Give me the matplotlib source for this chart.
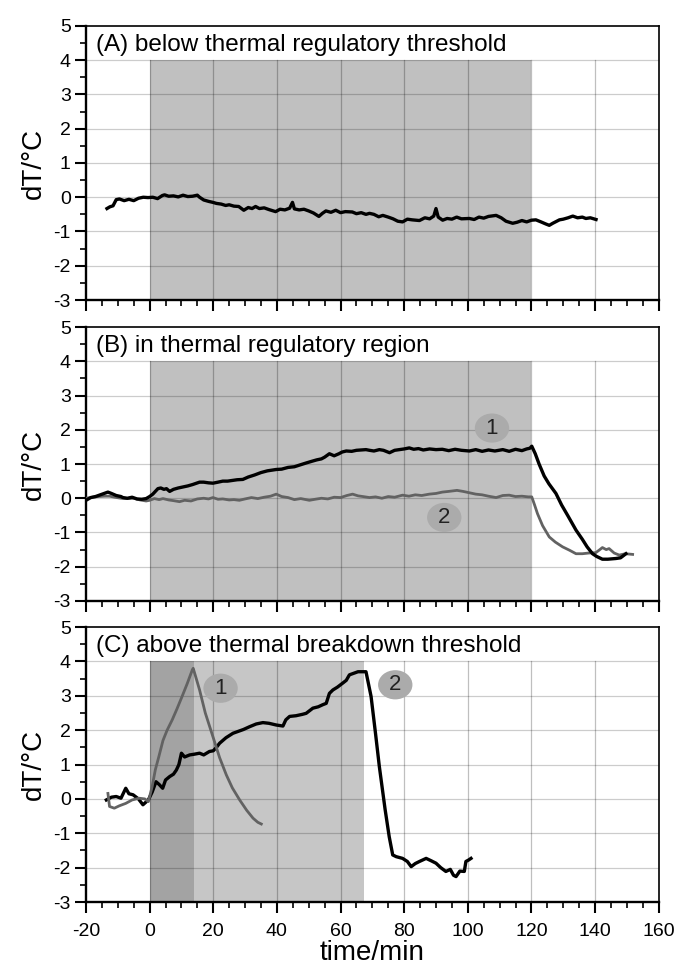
import matplotlib
matplotlib.use("Agg")
import matplotlib.pyplot as plt
from matplotlib.patches import Ellipse
from matplotlib.ticker import MultipleLocator

# ---- data (time in min, dT in degC) ----
A_T = [-13.4, -12.5, -11.5, -10.5, -9.5, -8, -6.5, -5, -3.5, -2, -0.5, 1, 2.5, 4, 4.7, 6,
       7.5, 9, 10.5, 12, 13.5, 15, 15.7, 17, 18.5, 19.9, 21, 22.5, 23.9, 25, 26.5, 28,
       29.6, 31, 32.2, 33.3, 34.5, 36, 37.5, 39.6, 41, 42.5, 44, 44.9, 45.5, 47, 48.5,
       50, 51.5, 53.2, 54.3, 55.4, 57, 58.5, 60, 61.5, 63.7, 65, 66.5, 68, 69.1, 70.5,
       72, 73.3, 75, 76.5, 78, 79.5, 81, 82.5, 84.8, 86.5, 88, 89.3, 90, 90.7, 92.1,
       93.5, 95, 96.5, 98, 100.5, 102, 103.5, 105, 106.5, 108.9, 110.5, 112, 114.1,
       115.5, 117, 118.5, 120, 121.4, 123, 124.5, 125.6, 126.7, 128.8, 130, 131.5, 133,
       134.5, 136, 137.1, 138.5, 140.3]
A_DT = [-0.33, -0.28, -0.25, -0.07, -0.05, -0.10, -0.06, -0.10, -0.03, 0.00, -0.01, 0.00,
        -0.04, 0.05, 0.07, 0.03, 0.04, 0.01, 0.06, 0.02, 0.03, 0.06, 0.00, -0.08, -0.12,
        -0.15, -0.18, -0.20, -0.24, -0.22, -0.26, -0.27, -0.38, -0.30, -0.33, -0.27, -0.33,
        -0.31, -0.36, -0.42, -0.35, -0.37, -0.32, -0.15, -0.34, -0.37, -0.35, -0.40, -0.46,
        -0.56, -0.47, -0.40, -0.44, -0.38, -0.45, -0.42, -0.43, -0.48, -0.45, -0.50, -0.47,
        -0.50, -0.57, -0.53, -0.58, -0.63, -0.70, -0.72, -0.64, -0.66, -0.68, -0.60, -0.63,
        -0.55, -0.33, -0.58, -0.67, -0.62, -0.64, -0.58, -0.63, -0.62, -0.65, -0.58, -0.61,
        -0.56, -0.53, -0.60, -0.70, -0.76, -0.73, -0.68, -0.72, -0.67, -0.66, -0.72, -0.78,
        -0.82, -0.76, -0.66, -0.64, -0.60, -0.55, -0.60, -0.58, -0.62, -0.60, -0.65]

B1_T = [-20, -18.5, -17, -15.5, -14, -13.1, -12, -10.5, -9, -8.4, -7, -5.5, -4, -2.5, -1.1,
        0, 1, 2, 2.6, 3.5, 4.5, 5.3, 6.3, 7.5, 9, 10.5, 12, 13.5, 15.7, 17, 18.5, 19.9,
        21.5, 23, 24.5, 26, 27.5, 29.3, 31, 33, 35, 37, 39.8, 41.5, 43.5, 45.5, 47.5, 49.2,
        51, 52.5, 54, 55, 56.5, 58, 59.5, 60.5, 61.8, 63.5, 65, 66.5, 68, 69.1, 70.5, 72.2,
        73.5, 75.4, 77, 78.5, 80, 81.6, 83, 84.5, 86, 88, 90, 92, 94, 96, 98, 100.5, 102.5,
        104.5, 106.5, 108.5, 111, 113, 115, 117, 118.5, 119.5, 120.1, 121.2, 122.4, 124,
        125.5, 127.7, 129.5, 131.5, 134, 136, 137.5, 139.2, 140.5, 142.3, 144, 146.5, 148,
        149.7]
B1_DT = [-0.06, 0.02, 0.05, 0.10, 0.15, 0.18, 0.14, 0.08, 0.05, 0.02, 0.00, 0.03, -0.02,
         -0.03, -0.01, 0.05, 0.12, 0.22, 0.28, 0.30, 0.26, 0.28, 0.20, 0.26, 0.30, 0.33,
         0.36, 0.40, 0.47, 0.47, 0.45, 0.44, 0.47, 0.50, 0.50, 0.52, 0.54, 0.55, 0.62, 0.68,
         0.75, 0.80, 0.84, 0.85, 0.90, 0.92, 0.98, 1.03, 1.08, 1.12, 1.15, 1.20, 1.30, 1.24,
         1.30, 1.35, 1.38, 1.37, 1.40, 1.41, 1.42, 1.40, 1.38, 1.42, 1.40, 1.33, 1.40, 1.42,
         1.44, 1.47, 1.43, 1.45, 1.41, 1.44, 1.42, 1.43, 1.39, 1.43, 1.40, 1.38, 1.42, 1.37,
         1.41, 1.38, 1.42, 1.37, 1.43, 1.39, 1.44, 1.46, 1.52, 1.30, 1.00, 0.65, 0.42, 0.14,
         -0.20, -0.52, -0.93, -1.20, -1.42, -1.62, -1.70, -1.78, -1.78, -1.76, -1.74, -1.62]

B2_T = [-20, -18, -16, -14, -12.6, -11, -9, -7, -5, -3, -1.1, 0, 1.5, 3, 4.2, 6, 7.5, 9.4,
        11, 13, 15, 17, 18.5, 19.9, 21.5, 23, 25, 26.5, 28.2, 30, 32, 34, 36, 38, 39.8,
        41.5, 43.5, 45.5, 47.5, 50.2, 52, 54, 56, 58, 60, 62, 63.8, 65.5, 67, 69.1, 71, 73,
        75, 77, 79.5, 81.5, 83.5, 85.5, 87.9, 90, 92, 94, 96.6, 98.5, 100.5, 102.5, 104.5,
        106.5, 108.9, 111, 113, 115, 117, 119, 120.1, 121, 121.9, 123.5, 125.6, 127.5,
        129.8, 132, 134, 136, 138, 140.2, 141.5, 142.3, 143.5, 144.4, 146, 147.6, 149.5,
        151.8]
B2_DT = [0.00, 0.03, 0.05, 0.06, 0.06, 0.03, 0.00, -0.01, 0.00, -0.05, -0.08, -0.06, -0.01,
         -0.04, -0.01, -0.05, -0.07, -0.10, -0.06, -0.08, -0.02, 0.00, -0.02, 0.02, -0.03,
         -0.02, -0.05, -0.04, -0.06, -0.02, 0.02, -0.01, 0.03, 0.06, 0.12, 0.05, 0.02, -0.04,
         -0.01, -0.06, -0.03, 0.00, -0.02, 0.03, 0.02, 0.08, 0.12, 0.07, 0.05, 0.02, 0.04,
         0.00, 0.05, 0.03, 0.09, 0.06, 0.10, 0.08, 0.12, 0.14, 0.18, 0.20, 0.23, 0.20, 0.16,
         0.12, 0.10, 0.06, 0.02, 0.08, 0.09, 0.05, 0.06, 0.04, 0.04, -0.20, -0.45, -0.80,
         -1.13, -1.28, -1.42, -1.52, -1.62, -1.62, -1.60, -1.59, -1.50, -1.44, -1.50, -1.47,
         -1.60, -1.66, -1.62, -1.64]

C1_T = [-13.1, -12.6, -11.1, -9.5, -7.5, -5.5, -3.3, -1.5, -0.4, 0.8, 1.8, 2.9, 4.2, 5.5,
        7.1, 8.6, 10.2, 11.8, 13.4, 13.7, 14.5, 15.7, 17.5, 19.9, 22, 24.1, 26, 28.3, 30.5,
        32.5, 34, 35.1]
C1_DT = [0.16, -0.22, -0.27, -0.20, -0.13, -0.03, 0.02, 0.00, -0.08, 0.36, 0.85, 1.23, 1.70,
         2.00, 2.30, 2.62, 2.98, 3.35, 3.75, 3.80, 3.55, 3.17, 2.50, 1.81, 1.20, 0.70, 0.32,
         -0.03, -0.33, -0.56, -0.68, -0.73]

C2_T = [-13.6, -12, -10.5, -9, -7.5, -6.5, -5.2, -3.5, -2.1, -0.4, 0.8, 2.0, 3, 4.1, 5, 6.3,
        7.5, 8.4, 9.2, 10, 11, 12.6, 14, 15.7, 17, 18.8, 20, 21, 22, 24, 26.2, 28, 29.5,
        31.4, 33.5, 35.6, 37.5, 39.8, 41.9, 42.8, 44, 46, 48, 49.2, 51.3, 53, 54.4, 55.5,
        56.5, 57.6, 59, 60.7, 61.8, 62.8, 64, 65.5, 67, 68.0, 69.6, 71, 72.2, 74, 75.3,
        76.4, 77.5, 79.5, 81, 82.2, 83.5, 84.8, 86.9, 88.5, 90, 91.5, 93.1, 94.5, 95.5,
        96.3, 97.5, 98.9, 99.4, 100.2, 101]
C2_DT = [-0.03, 0.05, 0.07, 0.02, 0.31, 0.15, 0.12, 0.00, -0.17, -0.03, 0.20, 0.50, 0.42,
         0.31, 0.55, 0.65, 0.72, 0.84, 1.00, 1.33, 1.22, 1.28, 1.30, 1.33, 1.28, 1.38, 1.40,
         1.50, 1.62, 1.78, 1.91, 1.97, 2.02, 2.10, 2.18, 2.22, 2.20, 2.15, 2.12, 2.30, 2.40,
         2.42, 2.46, 2.49, 2.64, 2.68, 2.74, 2.78, 3.07, 3.17, 3.25, 3.37, 3.45, 3.61, 3.65,
         3.70, 3.70, 3.70, 2.98, 1.90, 0.94, -0.30, -1.10, -1.63, -1.68, -1.73, -1.82, -1.97,
         -1.88, -1.82, -1.73, -1.80, -1.87, -2.00, -2.11, -2.05, -2.22, -2.26, -2.10, -2.11,
         -1.82, -1.78, -1.73]

TITLES = ["(A) below thermal regulatory threshold",
          "(B) in thermal regulatory region",
          "(C) above thermal breakdown threshold"]

# (t, dT, label) of the numbered markers
B_MARKS = [(107.6, 2.05, "1"), (92.6, -0.56, "2")]
C_MARKS = [(22.3, 3.22, "1"), (77.2, 3.32, "2")]

SHADE = "#c0c0c0"
SHADE_DARK = "#a3a3a3"
SHADE_LIGHT = "#c6c6c6"
GRAY_LINE = "#626262"
MARK = "#ababab"

plt.rcParams.update({
    "font.family": ["Liberation Sans", "DejaVu Sans"],
    "font.size": 14,
    "axes.linewidth": 1.2,
    "axes.unicode_minus": False,
})


def frame(ax, title, labels):
    ax.set_xlim(-20, 160)
    ax.set_ylim(-3, 5)
    # grid only in the data band (-3..4); the 4..5 band holds the title
    for x in range(0, 160, 20):
        ax.plot([x, x], [-3, 4], color="black", alpha=0.25, lw=0.9, zorder=1.5)
    for y in range(-2, 5):
        ax.axhline(y, color="black", alpha=0.2, lw=0.9, zorder=1.5)
    ax.xaxis.set_major_locator(MultipleLocator(20))
    ax.xaxis.set_minor_locator(MultipleLocator(5))
    ax.yaxis.set_major_locator(MultipleLocator(1))
    ax.yaxis.set_minor_locator(MultipleLocator(0.5))
    ax.tick_params(which="major", direction="out", length=8, width=1.5, labelsize=14)
    ax.tick_params(which="minor", direction="out", length=4.5, width=1.2)
    ax.tick_params(top=False, right=False)
    ax.tick_params(axis="x", pad=7)
    ax.tick_params(axis="y", pad=3)
    if not labels:
        ax.tick_params(axis="x", labelbottom=False)
    for s in ("left", "bottom"):
        ax.spines[s].set_linewidth(1.7)
    for s in ("top", "right"):
        ax.spines[s].set_linewidth(1.2)
    ax.set_ylabel("dT/\u00b0C", fontsize=20, labelpad=5)
    ax.text(0.017, 0.93, title, transform=ax.transAxes, ha="left", va="center",
            fontsize=17.5)


def marks(ax, rows):
    for t, v, s in rows:
        ax.add_patch(Ellipse((t, v), 10.8, 0.85, color=MARK, lw=0, zorder=4))
        ax.text(t, v, s, ha="center", va="center", fontsize=16, color="#222222", zorder=5)


fig = plt.figure(figsize=(6.77, 9.69), dpi=100)
L, W = 0.127, 0.846
axA = fig.add_axes([L, 0.6904, W, 0.2828])
axB = fig.add_axes([L, 0.3798, W, 0.2827])
axC = fig.add_axes([L, 0.0691, W, 0.2838])

# (A)
axA.axvspan(0, 120, ymin=0, ymax=7 / 8, color=SHADE, lw=0, zorder=1)
axA.plot(A_T, A_DT, color="black", lw=2.4, zorder=3)
frame(axA, TITLES[0], False)

# (B)
axB.axvspan(0, 120, ymin=0, ymax=7 / 8, color=SHADE, lw=0, zorder=1)
axB.plot(B2_T, B2_DT, color=GRAY_LINE, lw=2.0, zorder=3)
axB.plot(B1_T, B1_DT, color="black", lw=2.4, zorder=3)
marks(axB, B_MARKS)
frame(axB, TITLES[1], False)

# (C)
axC.axvspan(0, 14, ymin=0, ymax=7 / 8, color=SHADE_DARK, lw=0, zorder=1)
axC.axvspan(14, 67.5, ymin=0, ymax=7 / 8, color=SHADE_LIGHT, lw=0, zorder=1)
axC.plot(C2_T, C2_DT, color="black", lw=2.4, zorder=3)
axC.plot(C1_T, C1_DT, color=GRAY_LINE, lw=2.0, zorder=3)
marks(axC, C_MARKS)
frame(axC, TITLES[2], True)
axC.set_xlabel("time/min", fontsize=20, labelpad=0)

fig.savefig("out.png", dpi=100)
